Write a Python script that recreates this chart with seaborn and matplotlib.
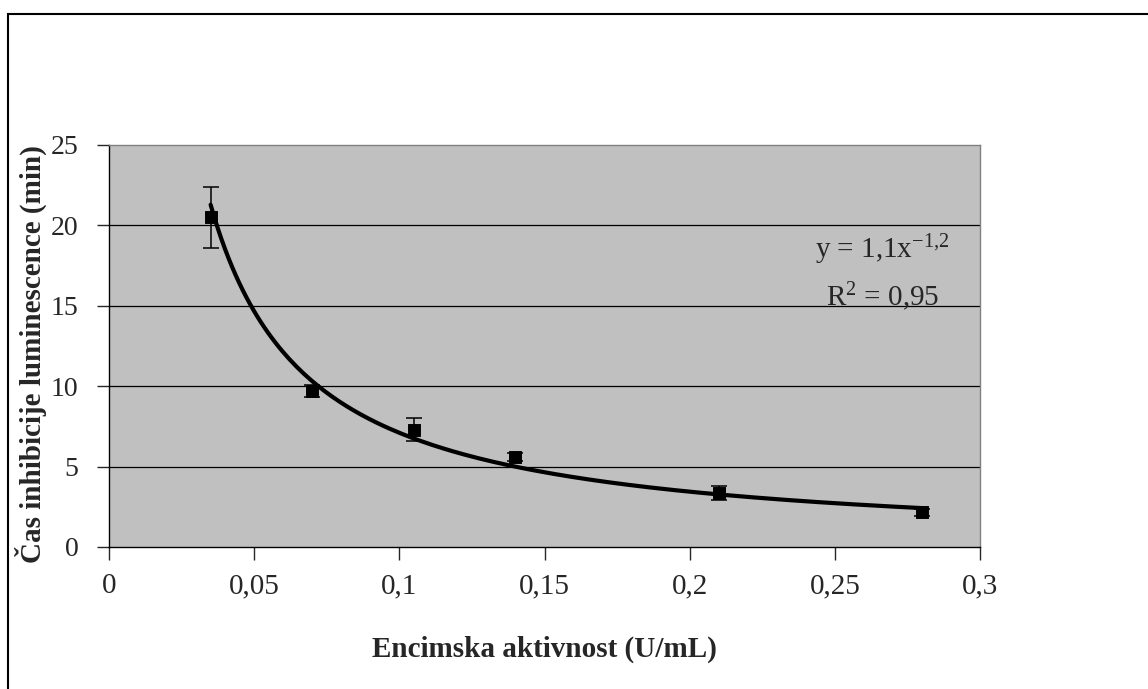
import matplotlib
matplotlib.use("Agg")
import matplotlib.pyplot as plt
import seaborn as sns
import numpy as np
import pandas as pd

# podatki (odčitani z grafa)
aktivnost = [0.035, 0.07, 0.105, 0.14, 0.21, 0.28]
cas = [20.5, 9.7, 7.3, 5.6, 3.35, 2.15]
napaka = [1.9, 0.4, 0.7, 0.25, 0.45, 0.2]
x_ticks = [0, 0.05, 0.1, 0.15, 0.2, 0.25, 0.3]
x_tick_labels = ["0", "0,05", "0,1", "0,15", "0,2", "0,25", "0,3"]
y_ticks = [0, 5, 10, 15, 20, 25]
enacba = "y = 1,1x$^{-1{,}2}$"
r2 = "R$^{2}$ = 0,95"

sns.set_style("white")
plt.rcParams["font.family"] = ["Liberation Serif", "DejaVu Serif"]
plt.rcParams["mathtext.fontset"] = "custom"
plt.rcParams["mathtext.rm"] = "Liberation Serif"
plt.rcParams["mathtext.default"] = "regular"

df = pd.DataFrame({"aktivnost": aktivnost, "cas": cas})

# potenčna trendna črta (prileganje v log prostoru)
b, ln_a = np.polyfit(np.log(aktivnost), np.log(cas), 1)
xf = np.linspace(min(aktivnost), max(aktivnost), 200)
fit = pd.DataFrame({"x": xf, "y": np.exp(ln_a) * xf ** b})

fig = plt.figure(figsize=(11.48, 6.89), dpi=100)
ax = fig.add_axes([109 / 1148, 1 - 547 / 689, 871 / 1148, 402 / 689])
ax.set_facecolor("#C0C0C0")

for y in y_ticks[1:-1]:
    ax.axhline(y, color="black", lw=0.9, zorder=1)

sns.lineplot(data=fit, x="x", y="y", color="black", lw=3, ax=ax, zorder=3)
ax.errorbar(aktivnost, cas, yerr=napaka, fmt="none", ecolor="black",
            elinewidth=1.1, capsize=5.5, capthick=1.1, zorder=4)
sns.scatterplot(data=df, x="aktivnost", y="cas", marker="s", s=70,
                color="black", edgecolor="black", ax=ax, zorder=5)

ax.set_xlim(0, 0.3)
ax.set_ylim(0, 25)
ax.set_xticks(x_ticks)
ax.set_xticklabels(x_tick_labels)
ax.set_yticks(y_ticks)
ax.tick_params(axis="x", direction="out", length=9, width=1, pad=10, labelsize=21)
ax.tick_params(axis="y", direction="out", length=9, width=1, pad=13, labelsize=20)
ax.tick_params(bottom=True, left=True)

for s in ["top", "right"]:
    ax.spines[s].set_color("#808080")
    ax.spines[s].set_linewidth(1)
for s in ["left", "bottom"]:
    ax.spines[s].set_color("black")
    ax.spines[s].set_linewidth(1)

ax.set_xlabel("Encimska aktivnost (U/mL)", fontsize=21, fontweight="bold", labelpad=26)
ax.set_ylabel("Čas inhibicije luminescence (min)", fontsize=21, fontweight="bold")
ax.yaxis.set_label_coords(-0.071, 0.48)

ax.text(0.2662, 18.5, enacba, fontsize=21, ha="center", va="center")
ax.text(0.2665, 15.6, r2, fontsize=21, ha="center", va="center")

# okvir okoli grafikona
fig.patches.append(plt.Rectangle((8 / 1148, -0.1), 1.2, 1 - 14 / 689 + 0.1,
                                 transform=fig.transFigure, fill=False,
                                 edgecolor="black", lw=1.5))

fig.savefig("out.png", dpi=100)
